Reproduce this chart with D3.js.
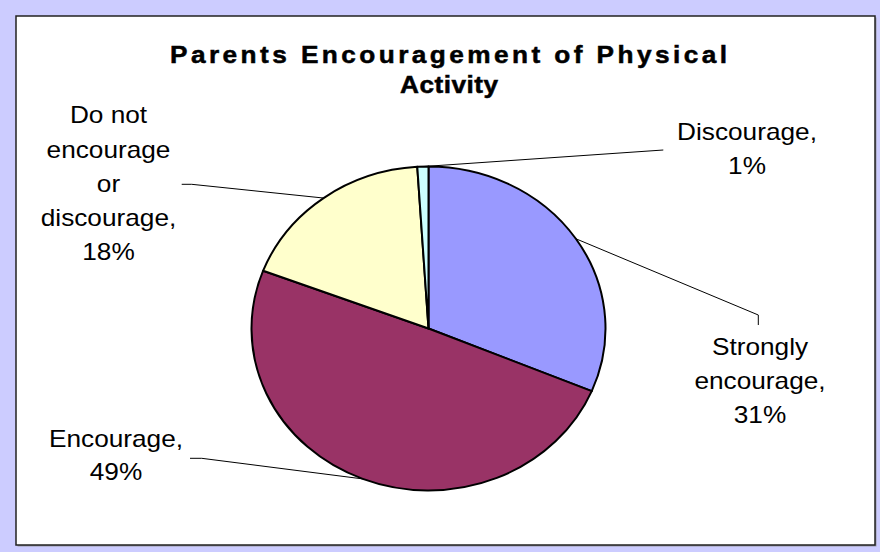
<!DOCTYPE html>
<html>
<head>
<meta charset="utf-8">
<script src="https://cdn.jsdelivr.net/npm/d3@7"></script>
<style>
  html, body { margin: 0; padding: 0; background: #ccccff; }
  svg { display: block; }
  text { font-family: "Liberation Sans", Arial, sans-serif; fill: #000; }
</style>
</head>
<body>
<svg id="chart" width="880" height="552"></svg>
<script>
// ---- data ----
const titleLines = ["Parents Encouragement of Physical", "Activity"];
const categories = ["Strongly encourage", "Encourage", "Do not encourage or discourage", "Discourage"];
const values = [31, 49, 18, 1];
const labelLines = [
  ["Strongly", "encourage,", "31%"],
  ["Encourage,", "49%"],
  ["Do not", "encourage", "or", "discourage,", "18%"],
  ["Discourage,", "1%"]
];
const colors = ["#9999ff", "#993366", "#ffffcc", "#ccffff"];

// ---- layout ----
const W = 880, H = 552;
const cx = 428.5, cy = 328.5, rx = 177, ry = 162;
const sx = rx / ry; // horizontal stretch of the original picture
const lineH = 34.2;

const svg = d3.select("#chart");

// background + chart area
svg.append("rect").attr("x", 0).attr("y", 0).attr("width", W).attr("height", H).attr("fill", "#ccccff");
svg.append("rect").attr("x", 17.5).attr("y", 17.5).attr("width", 859).attr("height", 529)
  .attr("fill", "#9a9aa8");
svg.append("rect").attr("x", 16).attr("y", 16).attr("width", 859).attr("height", 529)
  .attr("fill", "#ffffff").attr("stroke", "#222").attr("stroke-width", 1.5);

function addText(x, y, str, opts = {}) {
  const t = svg.append("text")
    .attr("transform", `translate(${x},${y}) scale(${sx},1)`)
    .attr("text-anchor", "middle")
    .style("font-size", (opts.size || 24) + "px")
    .style("font-weight", opts.bold ? "bold" : "normal")
    .text(str);
  if (opts.len) t.attr("textLength", opts.len / sx).attr("lengthAdjust", "spacing");
  if (opts.bold) t.attr("stroke", "#000").attr("stroke-width", 0.5);
  return t;
}

// title
addText(448.5, 62.7, titleLines[0], { bold: true, len: 557 });
addText(449, 93.3, titleLines[1], { bold: true, len: 98 });

// pie
const pie = d3.pie().sort(null).value(d => d)(values);
const arc = d3.arc().innerRadius(0).outerRadius(ry);
const g = svg.append("g").attr("transform", `translate(${cx},${cy}) scale(${sx},1)`);
g.selectAll("path").data(pie).join("path")
  .attr("d", arc)
  .attr("fill", (d, i) => colors[i])
  .attr("stroke", "#000")
  .attr("stroke-width", 2)
  .attr("stroke-linejoin", "round")
  .attr("vector-effect", "non-scaling-stroke");

function edgePoint(d) {
  const a = (d.startAngle + d.endAngle) / 2;
  return [cx + rx * Math.sin(a), cy - ry * Math.cos(a)];
}

// label placement (center x, first baseline) and leader starting segments
const labelPos = [
  { x: 760, y: 355, lead: [[758.3, 325], [758.3, 315]] },
  { x: 116, y: 446.7, lead: [[190, 458.3], [201.7, 458.3]] },
  { x: 108.5, y: 123.3, lead: [[181.7, 184.3], [191.7, 184.3]] },
  { x: 747, y: 140, lead: [[663.3, 150]] }
];

const line = d3.line();
pie.forEach((d, i) => {
  const p = labelPos[i];
  const pts = p.lead.concat([edgePoint(d)]);
  svg.append("path").attr("d", line(pts))
    .attr("fill", "none").attr("stroke", "#000").attr("stroke-width", 1);
  labelLines[i].forEach((s, k) => addText(p.x, p.y + k * (i === 3 || i === 1 ? 33.5 : lineH), s));
});
</script>
</body>
</html>
